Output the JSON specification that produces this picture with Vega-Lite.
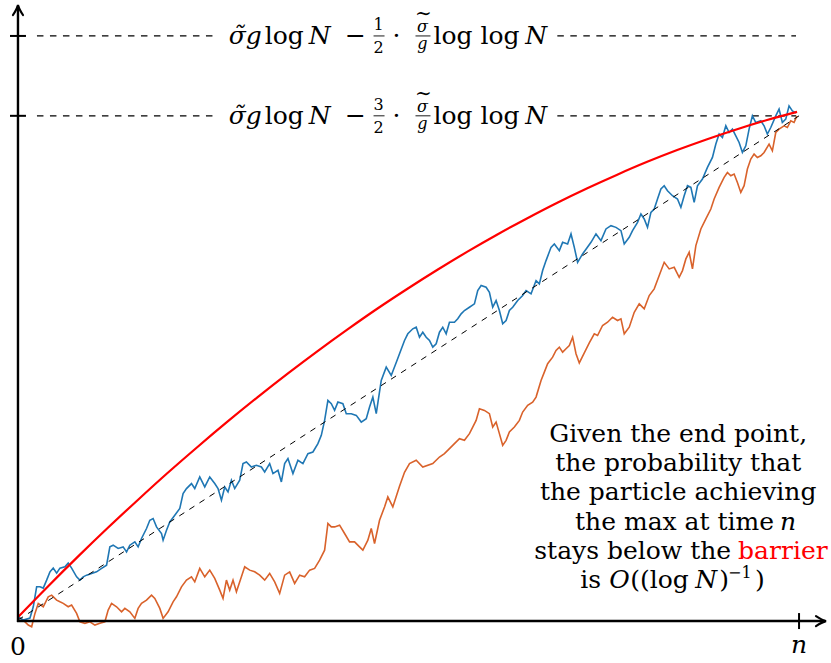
{
  "$schema": "https://vega.github.io/schema/vega-lite/v6.json",
  "autosize": {"type": "fit", "contains": "padding"},
  "width": 831,
  "height": 663,
  "padding": 0,
  "background": "white",
  "config": {"view": {"stroke": null}},
  "datasets": {
    "blue": [
      {"x":0,"y":4},{"x":5.3,"y":1},{"x":12,"y":3},{"x":15.3,"y":14.3},{"x":18.7,"y":34.3},{"x":22,"y":34.3},{"x":25.3,"y":33},{"x":28.7,"y":41},{"x":32,"y":49.3},{"x":35.3,"y":53},{"x":38.7,"y":48},{"x":42,"y":53},{"x":47,"y":54.3},{"x":50.3,"y":58},{"x":53.7,"y":53},{"x":58.7,"y":44.3},{"x":62,"y":41},{"x":65.3,"y":44.3},{"x":68.7,"y":46},{"x":73.7,"y":47.7},{"x":78.7,"y":49.3},{"x":83.7,"y":52.7},{"x":88.7,"y":56},{"x":92,"y":74.3},{"x":95.3,"y":76},{"x":100.3,"y":72.7},{"x":105.3,"y":74.3},{"x":108.7,"y":69.3},{"x":112,"y":76},{"x":117,"y":79.3},{"x":120.3,"y":74.3},{"x":123.7,"y":82.7},{"x":128.7,"y":92.7},{"x":132,"y":101},{"x":135.3,"y":102.7},{"x":138.7,"y":94.3},{"x":143.7,"y":87.7},{"x":145.3,"y":81},{"x":148.7,"y":91},{"x":152,"y":99.3},{"x":157,"y":106},{"x":162,"y":112.7},{"x":165.3,"y":127.7},{"x":168.7,"y":132.7},{"x":173.7,"y":137.7},{"x":177,"y":132.7},{"x":182,"y":144.3},{"x":187,"y":134.3},{"x":192,"y":144.3},{"x":197,"y":137.7},{"x":200.3,"y":132.7},{"x":203.7,"y":121},{"x":207,"y":134.3},{"x":210.3,"y":129.3},{"x":213.7,"y":141},{"x":217,"y":132.7},{"x":222,"y":141},{"x":225.3,"y":157.7},{"x":228.7,"y":159.3},{"x":233.7,"y":154.3},{"x":238.7,"y":156},{"x":243.7,"y":154.3},{"x":247,"y":149.3},{"x":252,"y":157.7},{"x":255.3,"y":147.7},{"x":260.3,"y":151},{"x":263.7,"y":139.3},{"x":267,"y":157.7},{"x":270.3,"y":162.7},{"x":275.3,"y":147.7},{"x":280.3,"y":161},{"x":285.3,"y":157.7},{"x":290.3,"y":167.7},{"x":295.3,"y":169.3},{"x":300.3,"y":177.7},{"x":303.7,"y":186},{"x":307,"y":201},{"x":310.3,"y":221},{"x":313.7,"y":217.7},{"x":317,"y":211},{"x":320.3,"y":219.3},{"x":325.3,"y":217.7},{"x":328.7,"y":207.7},{"x":333.7,"y":207.7},{"x":338.7,"y":206},{"x":343.7,"y":199.3},{"x":348.7,"y":202.7},{"x":352,"y":214.3},{"x":355.3,"y":224.3},{"x":358.7,"y":207.7},{"x":363.7,"y":241},{"x":368.7,"y":254.3},{"x":373.7,"y":246},{"x":378.7,"y":259},{"x":382,"y":267.7},{"x":387,"y":281},{"x":390.3,"y":287.7},{"x":395.3,"y":292.7},{"x":398.7,"y":294.3},{"x":402,"y":284.3},{"x":405.3,"y":289.3},{"x":408.7,"y":284.3},{"x":412,"y":281},{"x":415.3,"y":274.3},{"x":418.7,"y":277.7},{"x":422,"y":289.3},{"x":425.3,"y":294.3},{"x":428.7,"y":287.7},{"x":432,"y":299.3},{"x":437,"y":299.3},{"x":440.3,"y":302.7},{"x":443.7,"y":307.7},{"x":447,"y":311},{"x":452,"y":314.3},{"x":457,"y":317.7},{"x":460.3,"y":331},{"x":463.7,"y":336},{"x":468.7,"y":334.3},{"x":472,"y":329.3},{"x":475.3,"y":314.3},{"x":478.7,"y":321},{"x":482,"y":311},{"x":485.3,"y":297.7},{"x":488.7,"y":301},{"x":492,"y":311},{"x":495.3,"y":314.3},{"x":500.3,"y":321},{"x":505.3,"y":326},{"x":508.7,"y":331},{"x":513.7,"y":327.7},{"x":518.7,"y":341},{"x":522,"y":337.7},{"x":525.3,"y":351},{"x":528.7,"y":361},{"x":533.7,"y":374.3},{"x":537,"y":377.7},{"x":542,"y":371},{"x":545.3,"y":379.3},{"x":550.3,"y":377.7},{"x":553.7,"y":387.7},{"x":557,"y":374.3},{"x":560.3,"y":359.3},{"x":565.3,"y":367.7},{"x":573.7,"y":379.3},{"x":578.7,"y":387.7},{"x":583.7,"y":381},{"x":588.7,"y":392.7},{"x":593.7,"y":396},{"x":598.7,"y":394.3},{"x":603.7,"y":391},{"x":607,"y":377.7},{"x":612,"y":384.3},{"x":615.3,"y":391},{"x":620.3,"y":399.3},{"x":623.7,"y":407.7},{"x":627,"y":402.7},{"x":630.3,"y":394.3},{"x":633.7,"y":409.3},{"x":637,"y":412.7},{"x":640.3,"y":422.7},{"x":643.7,"y":432.7},{"x":647,"y":436},{"x":650.3,"y":431},{"x":655.3,"y":426},{"x":660.3,"y":422.7},{"x":663.7,"y":414.3},{"x":667,"y":426},{"x":670.3,"y":436},{"x":673.7,"y":434.3},{"x":677,"y":419.3},{"x":680.3,"y":436},{"x":685.3,"y":442.7},{"x":690.3,"y":454.3},{"x":695.3,"y":464.3},{"x":698.7,"y":477.7},{"x":702,"y":487.7},{"x":705.3,"y":484.3},{"x":708.7,"y":496},{"x":712,"y":489.3},{"x":715.3,"y":492.7},{"x":718.7,"y":486},{"x":722,"y":479.3},{"x":725.3,"y":469.3},{"x":728.7,"y":476},{"x":732,"y":492.7},{"x":735.3,"y":506},{"x":738.7,"y":499.3},{"x":743.7,"y":501},{"x":747,"y":496},{"x":750.3,"y":487.7},{"x":753.7,"y":494.3},{"x":758.7,"y":506},{"x":762,"y":512.7},{"x":765.3,"y":499.3},{"x":768.7,"y":502.7},{"x":772,"y":516},{"x":775.3,"y":511},{"x":779,"y":509}
    ],
    "orange": [
      {"x":0,"y":4},{"x":5.3,"y":1},{"x":10.3,"y":-4},{"x":13.7,"y":-5.7},{"x":17,"y":7.7},{"x":20.3,"y":17.7},{"x":25.3,"y":14.3},{"x":30.3,"y":24.3},{"x":33.7,"y":26},{"x":38.7,"y":21},{"x":42,"y":19.3},{"x":45.3,"y":17.7},{"x":50.3,"y":14.3},{"x":53.7,"y":16},{"x":58.7,"y":7.7},{"x":62,"y":-0.7},{"x":67,"y":-2.3},{"x":72,"y":-0.7},{"x":77,"y":-4},{"x":82,"y":-2.3},{"x":87,"y":-0.7},{"x":90.3,"y":11},{"x":93.7,"y":17.7},{"x":98.7,"y":14.3},{"x":103.7,"y":9.3},{"x":107,"y":12.7},{"x":112,"y":9.3},{"x":117,"y":2.7},{"x":120.3,"y":12.7},{"x":123.7,"y":17.7},{"x":128.7,"y":21},{"x":133.7,"y":26},{"x":137,"y":22.7},{"x":142,"y":12.7},{"x":145.3,"y":2.7},{"x":150.3,"y":9.3},{"x":155.3,"y":19.3},{"x":158.7,"y":24.3},{"x":163.7,"y":34.3},{"x":168.7,"y":41},{"x":173.7,"y":44.3},{"x":177,"y":39.3},{"x":182,"y":52.7},{"x":187,"y":44.3},{"x":192,"y":51},{"x":197,"y":42.7},{"x":202,"y":31},{"x":205.3,"y":22.7},{"x":208.7,"y":41},{"x":212,"y":31},{"x":215.3,"y":41},{"x":218.7,"y":29.3},{"x":223.7,"y":44.3},{"x":227,"y":54.3},{"x":232,"y":51},{"x":237,"y":49.3},{"x":242,"y":46},{"x":247,"y":41},{"x":252,"y":47.7},{"x":257,"y":39.3},{"x":262,"y":27.7},{"x":267,"y":46},{"x":272,"y":49.3},{"x":277,"y":37.7},{"x":282,"y":46},{"x":287,"y":44.3},{"x":292,"y":51},{"x":297,"y":52.7},{"x":302,"y":61},{"x":307,"y":71},{"x":310.3,"y":97.7},{"x":313.7,"y":94.3},{"x":317,"y":94.3},{"x":322,"y":96},{"x":327,"y":87.7},{"x":332,"y":79.3},{"x":337,"y":79.3},{"x":342,"y":74.3},{"x":345.3,"y":71},{"x":350.3,"y":81},{"x":353.7,"y":92.7},{"x":357,"y":77.7},{"x":362,"y":101},{"x":367,"y":114.3},{"x":370.3,"y":124.3},{"x":375.3,"y":114.3},{"x":382,"y":135},{"x":387,"y":149},{"x":392,"y":157.7},{"x":398.7,"y":161},{"x":405.3,"y":154.3},{"x":415.3,"y":157.7},{"x":422,"y":164.3},{"x":427,"y":167.7},{"x":432,"y":172.7},{"x":437,"y":177.7},{"x":442,"y":182.7},{"x":447,"y":181},{"x":452,"y":187.7},{"x":455.3,"y":194.3},{"x":458.7,"y":201},{"x":462,"y":212.7},{"x":467,"y":211},{"x":472,"y":207.7},{"x":475.3,"y":194.3},{"x":478.7,"y":199.3},{"x":482,"y":187.7},{"x":485.3,"y":176},{"x":488.7,"y":181},{"x":492,"y":189.3},{"x":497,"y":194.3},{"x":502,"y":201},{"x":505.3,"y":209.3},{"x":510.3,"y":216},{"x":515.3,"y":219.3},{"x":518.7,"y":224.3},{"x":523.7,"y":241},{"x":527,"y":249.3},{"x":530.3,"y":257.7},{"x":535.3,"y":264.3},{"x":538.7,"y":271},{"x":542,"y":274.3},{"x":545.3,"y":269.3},{"x":548.7,"y":272.7},{"x":552,"y":276},{"x":555.3,"y":284.3},{"x":558.7,"y":267.7},{"x":562,"y":258.5},{"x":567,"y":268.5},{"x":572,"y":278.5},{"x":577,"y":287.7},{"x":580.3,"y":286},{"x":585.3,"y":296},{"x":590.3,"y":299.3},{"x":595.3,"y":304.3},{"x":600.3,"y":301},{"x":603.7,"y":302.7},{"x":607,"y":287.7},{"x":612,"y":294.3},{"x":617,"y":309.3},{"x":622,"y":317.7},{"x":627,"y":312.7},{"x":632,"y":326},{"x":637,"y":332.7},{"x":642,"y":346},{"x":647,"y":359.3},{"x":652,"y":352.7},{"x":657,"y":354.3},{"x":662,"y":344.3},{"x":665.3,"y":351},{"x":668.7,"y":362.7},{"x":672,"y":369.3},{"x":675.3,"y":352.7},{"x":678.7,"y":376},{"x":683.7,"y":392.7},{"x":688.7,"y":402.7},{"x":693.7,"y":412.7},{"x":697,"y":422.7},{"x":702,"y":434.3},{"x":707,"y":444.3},{"x":710.3,"y":449.3},{"x":713.7,"y":446},{"x":717,"y":447.7},{"x":720.3,"y":439.3},{"x":723.7,"y":429.3},{"x":727,"y":436},{"x":730.3,"y":452.7},{"x":733.7,"y":462.7},{"x":737,"y":467.7},{"x":740.3,"y":464.3},{"x":743.7,"y":466},{"x":747,"y":469.3},{"x":752,"y":477.7},{"x":755.3,"y":471},{"x":758.7,"y":489.3},{"x":762,"y":492.7},{"x":767,"y":496},{"x":770.3,"y":494.3},{"x":773.7,"y":501},{"x":777,"y":499.3},{"x":780,"y":506}
    ],
    "red": [
      {"x":0,"y":4},{"x":30,"y":34.7},{"x":60,"y":64.5},{"x":90,"y":93.4},{"x":120,"y":121.3},{"x":150,"y":148.5},{"x":180,"y":174.6},{"x":210,"y":199.9},{"x":240,"y":224.3},{"x":270,"y":247.8},{"x":300,"y":270.4},{"x":330,"y":292.1},{"x":360,"y":313},{"x":390,"y":332.8},{"x":420,"y":351.8},{"x":450,"y":370},{"x":480,"y":387.2},{"x":510,"y":403.5},{"x":540,"y":419},{"x":570,"y":433.5},{"x":600,"y":447.1},{"x":630,"y":459.9},{"x":660,"y":471.7},{"x":690,"y":482.6},{"x":720,"y":492.6},{"x":750,"y":501.8},{"x":780,"y":510}
    ],
    "diag": [{"x":0,"y":1},{"x":782,"y":506}],
    "hdash": [
      {"x":19,"x2":200,"y":586,"y2":586},{"x":540,"x2":779,"y":586,"y2":586},
      {"x":19,"x2":200,"y":506,"y2":506},{"x":540,"x2":779,"y":506,"y2":506}
    ],
    "axes": [
      {"x":-1,"x2":808,"y":0,"y2":0},{"x":0,"x2":0,"y":-1,"y2":616}
    ],
    "ticks": [
      {"x":-8,"x2":8,"y":586,"y2":586},{"x":-8,"x2":8,"y":506,"y2":506},{"x":782,"x2":782,"y":-8,"y2":8}
    ],
    "fracbars": [
      {"x":356,"x2":367,"y":586,"y2":586},{"x":398,"x2":413,"y":586,"y2":586},
      {"x":356,"x2":367,"y":506,"y2":506},{"x":398,"x2":413,"y":506,"y2":506}
    ],
    "arrowR": [{"x":809,"y":0}],
    "arrowU": [{"x":0,"y":617}],
    "txtC": [
      {"x":661,"y":179.3,"t":"Given the end point,"},
      {"x":661,"y":150.1,"t":"the probability that"},
      {"x":661,"y":120.9,"t":"the particle achieving"},
      {"x":0,"y":-34,"t":"0"},
      {"x":338,"y":578,"t":"−"},{"x":338,"y":498,"t":"−"},
      {"x":379,"y":578,"t":"·"},{"x":379,"y":498,"t":"·"}
    ],
    "txtL": [
      {"x":247,"y":578,"t":"log"},{"x":247,"y":498,"t":"log"},
      {"x":416,"y":578,"t":"log log"},{"x":416,"y":498,"t":"log log"},
      {"x":563,"y":33.3,"t":"is"},{"x":613,"y":33.3,"t":"((log"},
      {"x":702,"y":33.3,"t":")"},{"x":738,"y":33.3,"t":")"}
    ],
    "txtR": [
      {"x":757,"y":91.7,"t":"the max at time"},
      {"x":714,"y":62.5,"t":"stays below the"}
    ],
    "txtIL": [
      {"x":211,"y":578,"t":"σ̃g"},{"x":211,"y":498,"t":"σ̃g"},
      {"x":291,"y":578,"t":"N"},{"x":291,"y":498,"t":"N"},
      {"x":508,"y":578,"t":"N"},{"x":508,"y":498,"t":"N"},
      {"x":763,"y":91.7,"t":"n"},{"x":592,"y":33.3,"t":"O"},{"x":678,"y":33.3,"t":"N"}
    ],
    "txtIC": [{"x":782,"y":-32,"t":"n"}],
    "txtRed": [{"x":721,"y":62.5,"t":"barrier"}],
    "smallC": [
      {"x":361,"y":592,"t":"1"},{"x":361,"y":569,"t":"2"},
      {"x":361,"y":512,"t":"3"},{"x":361,"y":489,"t":"2"}
    ],
    "smallL": [{"x":711,"y":43,"t":"−1"}],
    "smallIC": [
      {"x":405,"y":590,"t":"σ"},{"x":405,"y":573,"t":"g"},
      {"x":405,"y":510,"t":"σ"},{"x":405,"y":493,"t":"g"}
    ],
    "tilde": [{"x":406,"y":608,"t":"∼"},{"x":406,"y":528,"t":"∼"}]
  },
  "encoding": {
    "x": {"field": "x", "type": "quantitative", "scale": {"domain": [-18, 813], "nice": false, "zero": false}, "axis": null},
    "y": {"field": "y", "type": "quantitative", "scale": {"domain": [-42, 621], "nice": false, "zero": false}, "axis": null}
  },
  "layer": [
    {"data": {"name": "hdash"}, "mark": {"type": "rule", "color": "black", "strokeWidth": 1.2, "strokeDash": [6.5, 6.5]},
     "encoding": {"x2": {"field": "x2"}, "y2": {"field": "y2"}}},
    {"data": {"name": "orange"}, "mark": {"type": "line", "color": "#d9622b", "strokeWidth": 1.6}, "encoding": {}},
    {"data": {"name": "blue"}, "mark": {"type": "line", "color": "#1f77b4", "strokeWidth": 1.6}, "encoding": {}},
    {"data": {"name": "diag"}, "mark": {"type": "line", "color": "black", "strokeWidth": 1, "strokeDash": [6, 6]}, "encoding": {}},
    {"data": {"name": "red"}, "mark": {"type": "line", "color": "#ff0000", "strokeWidth": 2.2, "interpolate": "monotone"}, "encoding": {}},
    {"data": {"name": "axes"}, "mark": {"type": "rule", "color": "black", "strokeWidth": 2.4},
     "encoding": {"x2": {"field": "x2"}, "y2": {"field": "y2"}}},
    {"data": {"name": "ticks"}, "mark": {"type": "rule", "color": "black", "strokeWidth": 2},
     "encoding": {"x2": {"field": "x2"}, "y2": {"field": "y2"}}},
    {"data": {"name": "fracbars"}, "mark": {"type": "rule", "color": "black", "strokeWidth": 0.9},
     "encoding": {"x2": {"field": "x2"}, "y2": {"field": "y2"}}},
    {"data": {"name": "arrowR"}, "mark": {"type": "point", "shape": "M -1 -0.5 Q -0.4 -0.1 0 0 Q -0.4 0.1 -1 0.5", "size": 400, "filled": false, "stroke": "black", "strokeWidth": 2.2, "opacity": 1, "strokeCap": "round"}},
    {"data": {"name": "arrowU"}, "mark": {"type": "point", "shape": "M -1 -0.5 Q -0.4 -0.1 0 0 Q -0.4 0.1 -1 0.5", "size": 400, "filled": false, "stroke": "black", "strokeWidth": 2.2, "opacity": 1, "strokeCap": "round", "angle": 270}},
    {"data": {"name": "txtC"}, "mark": {"type": "text", "font": "DejaVu Serif", "fontSize": 25, "align": "center", "baseline": "alphabetic", "color": "black"},
     "encoding": {"text": {"field": "t"}}},
    {"data": {"name": "txtL"}, "mark": {"type": "text", "font": "DejaVu Serif", "fontSize": 25, "align": "left", "baseline": "alphabetic", "color": "black"},
     "encoding": {"text": {"field": "t"}}},
    {"data": {"name": "txtR"}, "mark": {"type": "text", "font": "DejaVu Serif", "fontSize": 25, "align": "right", "baseline": "alphabetic", "color": "black"},
     "encoding": {"text": {"field": "t"}}},
    {"data": {"name": "txtIL"}, "mark": {"type": "text", "font": "DejaVu Serif", "fontStyle": "italic", "fontSize": 25, "align": "left", "baseline": "alphabetic", "color": "black"},
     "encoding": {"text": {"field": "t"}}},
    {"data": {"name": "txtIC"}, "mark": {"type": "text", "font": "DejaVu Serif", "fontStyle": "italic", "fontSize": 25, "align": "center", "baseline": "alphabetic", "color": "black"},
     "encoding": {"text": {"field": "t"}}},
    {"data": {"name": "txtRed"}, "mark": {"type": "text", "font": "DejaVu Serif", "fontSize": 25, "align": "left", "baseline": "alphabetic", "color": "#ff0000"},
     "encoding": {"text": {"field": "t"}}},
    {"data": {"name": "smallC"}, "mark": {"type": "text", "font": "DejaVu Serif", "fontSize": 16, "align": "center", "baseline": "alphabetic", "color": "black"},
     "encoding": {"text": {"field": "t"}}},
    {"data": {"name": "smallL"}, "mark": {"type": "text", "font": "DejaVu Serif", "fontSize": 16, "align": "left", "baseline": "alphabetic", "color": "black"},
     "encoding": {"text": {"field": "t"}}},
    {"data": {"name": "smallIC"}, "mark": {"type": "text", "font": "DejaVu Serif", "fontStyle": "italic", "fontSize": 16, "align": "center", "baseline": "alphabetic", "color": "black"},
     "encoding": {"text": {"field": "t"}}},
    {"data": {"name": "tilde"}, "mark": {"type": "text", "font": "DejaVu Serif", "fontSize": 20, "align": "center", "baseline": "middle", "color": "black"},
     "encoding": {"text": {"field": "t"}}}
  ]
}
